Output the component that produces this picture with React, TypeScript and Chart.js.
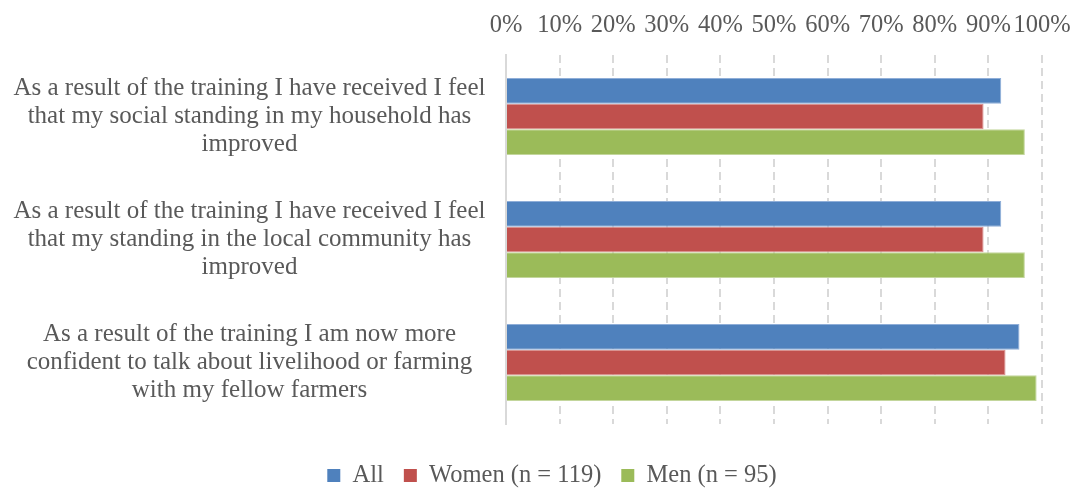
import React, { useEffect, useRef } from 'react';
import { Chart, registerables } from 'chart.js';

Chart.register(...registerables);

const categories: string[][] = [
  ['As a result of the training I have received I feel', 'that my social standing in my household has', 'improved'],
  ['As a result of the training I have received I feel', 'that my standing in the local community has', 'improved'],
  ['As a result of the training I am now more', 'confident to talk about livelihood or farming', 'with my fellow farmers'],
];

const seriesNames = ['All', 'Women (n = 119)', 'Men (n = 95)'];
const allValues = [92.4, 92.4, 95.8];
const womenValues = [89.1, 89.1, 93.2];
const menValues = [96.8, 96.8, 99.0];
const xTickValues = [0, 10, 20, 30, 40, 50, 60, 70, 80, 90, 100];

const FONT = "'Liberation Serif', 'Times New Roman', serif";
const TEXT = '#595959';

const unclipLabels = {
  id: 'unclipLabels',
  afterLayout(chart: any) {
    if (chart.scales.y) chart.scales.y.left = 0;
  },
};

export default function App() {
  const ref = useRef<HTMLCanvasElement | null>(null);

  useEffect(() => {
    if (!ref.current) return;
    const chart = new Chart(ref.current, {
      type: 'bar',
      data: {
        labels: categories,
        datasets: [
          { label: seriesNames[0], data: allValues, backgroundColor: '#4F81BD', borderColor: '#8FAED8', borderWidth: 1 },
          { label: seriesNames[1], data: womenValues, backgroundColor: '#C0504D', borderColor: '#D98E8C', borderWidth: 1 },
          { label: seriesNames[2], data: menValues, backgroundColor: '#9BBB59', borderColor: '#C3D69C', borderWidth: 1 },
        ],
      },
      plugins: [unclipLabels],
      options: {
        indexAxis: 'y',
        animation: false,
        responsive: true,
        maintainAspectRatio: false,
        layout: { padding: { left: 25, top: 0, right: 0, bottom: -9.75 } },
        datasets: { bar: { barPercentage: 1, categoryPercentage: 0.626 } },
        scales: {
          x: {
            type: 'linear',
            position: 'top',
            min: 0,
            max: 100,
            afterBuildTicks: (s: any) => {
              s.ticks = xTickValues.map((v) => ({ value: v }));
            },
            afterFit: (s: any) => {
              s.height = 55;
              s.paddingRight = 37;
            },
            ticks: {
              autoSkip: false,
              maxRotation: 0,
              minRotation: 0,
              padding: 15,
              color: TEXT,
              font: { family: FONT, size: 24.5 },
              callback: (v: any) => v + '%',
            },
            grid: {
              drawTicks: false,
              lineWidth: 2,
              color: (c: any) => (c.tick && c.tick.value === 0 ? 'rgba(0,0,0,0)' : '#D9D9D9'),
            },
            border: { display: false, dash: [8, 5] },
          },
          x2: {
            type: 'linear',
            position: 'bottom',
            display: true,
            afterFit: (s: any) => {
              s.height = 19.25;
              s.paddingLeft = 0;
              s.paddingRight = 0;
            },
            ticks: { display: false },
            grid: { display: false, drawTicks: false },
            border: { display: false },
          },
          y: {
            type: 'category',
            position: 'left',
            afterFit: (s: any) => {
              s.width = 481;
              s.paddingTop = 0;
              s.paddingBottom = 0;
            },
            ticks: {
              crossAlign: 'center',
              padding: 20.5,
              color: TEXT,
              font: { family: FONT, size: 25, lineHeight: '28px' },
            },
            grid: { display: false, drawTicks: false },
            border: { display: true, color: '#D9D9D9', width: 2 },
          },
        },
        plugins: {
          tooltip: { enabled: false },
          legend: {
            position: 'bottom',
            labels: {
              boxWidth: 13,
              boxHeight: 13,
              padding: 20,
              color: TEXT,
              font: { family: FONT, size: 24.5 },
              generateLabels: (c: any) =>
                Chart.defaults.plugins.legend.labels.generateLabels(c).map((l: any) => ({ ...l, lineWidth: 0 })),
            },
          },
        },
      } as any,
    });
    return () => chart.destroy();
  }, []);

  return (
    <div style={{ position: 'fixed', left: 0, top: 0, width: 1079, height: 488, background: '#fff' }}>
      <canvas ref={ref} />
    </div>
  );
}
